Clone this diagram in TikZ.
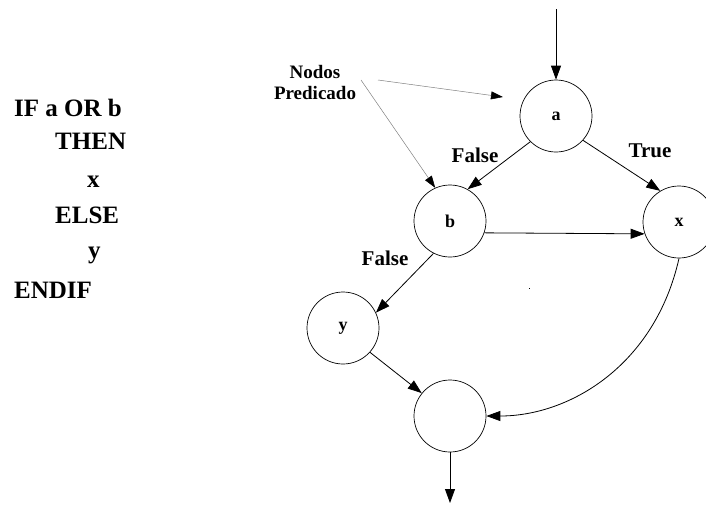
\documentclass[tikz,border=0pt]{standalone}
\usepackage{fontspec}
\setmainfont{Liberation Serif}
\usetikzlibrary{arrows.meta}

\tikzset{
  nodo/.style={circle,draw,line width=0.7pt,minimum size=72pt,inner sep=0pt,font=\fontsize{18}{20}\selectfont\bfseries},
  flow/.style={-{Triangle[length=14pt,width=10pt]},line width=0.8pt},
  hint/.style={draw=gray,line width=0.5pt,-{Triangle[length=12pt,width=8pt,black]}},
  cond/.style={font=\fontsize{21}{24}\selectfont\bfseries},
  code/.style={anchor=base west,inner sep=0pt,font=\fontsize{25}{28}\selectfont\bfseries}
}

\begin{document}
\begin{tikzpicture}[x=1pt,y=1pt,yscale=-1,xscale=1]
  \useasboundingbox (0,0) rectangle (706,504);

  % codigo
  \node[code] (l1) at (14,116) {IF a OR b};
  \node[code] (l2) at (55,149) {THEN};
  \node[code] (l3) at (87,187) {x};
  \node[code] (l4) at (55,223) {ELSE};
  \node[code] (l5) at (88,258) {y};
  \node[code] (l6) at (14,298) {ENDIF};

  % grafo
  \node[nodo] (a) at (556,116) {a};
  \node[nodo] (b) at (450,221) {b};
  \node[nodo] (x) at (679,222) {x};
  \node[nodo] (y) at (343,328) {y};
  \node[nodo] (fin) at (450,416) {};
  \coordinate (entrada) at (556,9);
  \coordinate (salida) at (450,503);

  \draw[flow] (entrada) -- (a.north);
  \draw[flow] (a.225) -- (b.61);
  \draw[flow] (a.318) -- (x.121);
  \draw[flow] (b.341) -- (x.199);
  \draw[flow] (b.243) -- (y.25);
  \draw[flow] (y.318) -- (fin.141);
  \draw[flow] (x.south) .. controls (655,365) and (570,416) .. (fin.east);
  \draw[flow] (fin.south) -- (salida);

  \node[cond] (f1) at (475,155) {False};
  \node[cond] (t1) at (650,151) {True};
  \node[cond] (f2) at (385,258) {False};

  % nodos predicado
  \node[cond,font=\fontsize{19}{21}\selectfont\bfseries,align=center] (pred) at (315,82) {Nodos\\Predicado};
  \coordinate (pa) at (378,80);
  \coordinate (pb) at (361,80);
  \coordinate (qa) at (503,97);
  \draw[hint] (pa) -- (qa);
  \draw[hint] (pb) -- (b.114);

  \fill (528.5,287.5) rectangle (530,289);
\end{tikzpicture}
\end{document}
